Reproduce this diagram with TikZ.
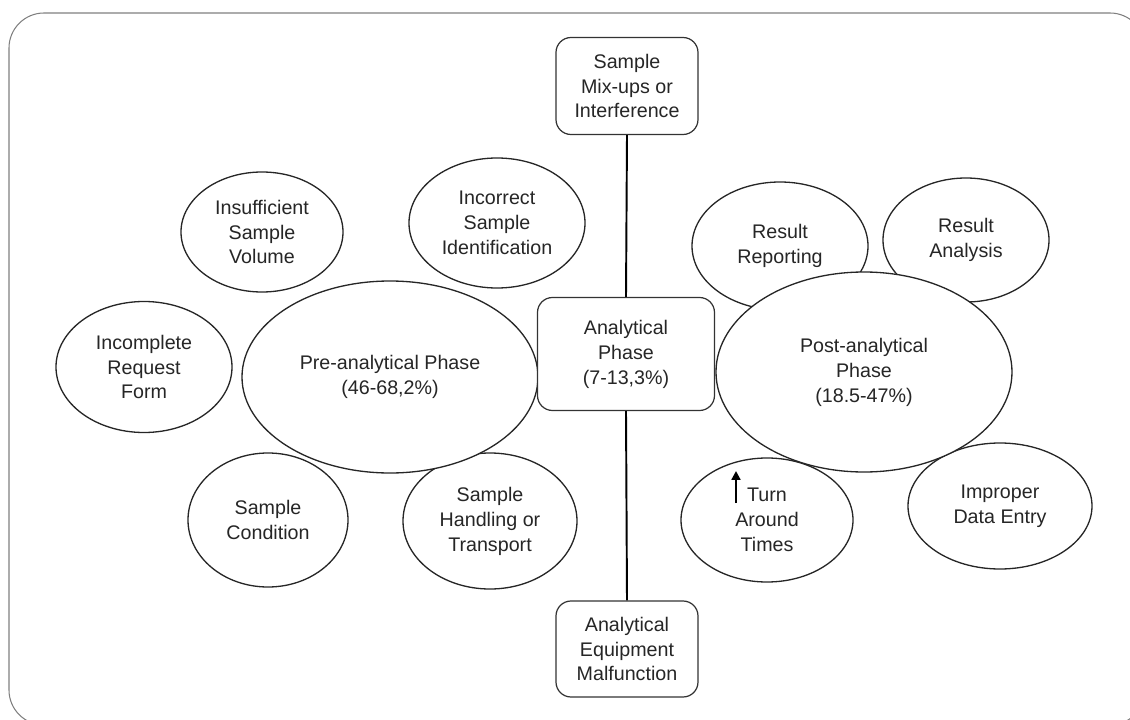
\documentclass[tikz,border=0pt]{standalone}
\usepackage{fontspec}
\setmainfont{Liberation Sans}
\usetikzlibrary{shapes.geometric, arrows.meta}

\tikzset{
  bubble/.style={ellipse, draw=black!85, line width=0.75pt, fill=white,
    inner sep=0pt, align=center, text=black!85},
  phasebox/.style={rectangle, rounded corners=0.3cm, draw=black!80,
    line width=0.7pt, fill=white, inner sep=0pt, align=center, text=black!85},
}

\begin{document}
\begin{tikzpicture}[x=0.02cm, y=-0.02cm, font=\fontsize{11.2}{14.2}\selectfont]
    %% Phases of laboratory errors

    % Params
    \def\u{0.02cm}

    % Frame
    \useasboundingbox (0,0) rectangle (1130,720);
    \draw[black!50, line width=0.6pt, rounded corners=0.7cm] (9,13) rectangle (1145,725);

    % Error sources, pre-analytical side
    \node[bubble, minimum width=176*\u, minimum height=131*\u] (incomplete) at (144,367) {Incomplete\\Request\\Form};
    \node[bubble, minimum width=162*\u, minimum height=120*\u] (volume) at (262,232) {Insufficient\\Sample\\Volume};
    \node[bubble, minimum width=176*\u, minimum height=130*\u] (ident) at (497,223) {Incorrect\\Sample\\Identification};
    \node[bubble, minimum width=160*\u, minimum height=134*\u] (condition) at (268,520) {Sample\\Condition};
    \node[bubble, minimum width=174*\u, minimum height=136*\u] (handling) at (490,521) {Sample\\Handling or\\Transport};

    % Error sources, post-analytical side
    \node[bubble, minimum width=176*\u, minimum height=128*\u] (reporting) at (780,246) {Result\\Reporting};
    \node[bubble, minimum width=166*\u, minimum height=124*\u] (analysis) at (966,240) {Result\\Analysis};
    \node[bubble, minimum width=172*\u, minimum height=124*\u] (turnaround) at (767,520) {Turn\\Around\\Times};
    \node[bubble, minimum width=184*\u, minimum height=126*\u] (entry) at (1000,506) {Improper\\Data Entry};

    % Phases
    \node[bubble, minimum width=296*\u, minimum height=192*\u] (pre) at (390,377) {Pre-analytical Phase\\(46-68,2\%)};
    \node[bubble, minimum width=296*\u, minimum height=200*\u] (post) at (864,372) {Post-analytical\\Phase\\(18.5-47\%)};
    \node[phasebox, minimum width=177*\u, minimum height=113*\u] (analytical) at (626,354) {Analytical\\Phase\\(7-13,3\%)};

    % Analytical error sources
    \node[phasebox, minimum width=142*\u, minimum height=97*\u] (mixups) at (627,86) {Sample\\Mix-ups or\\Interference};
    \node[phasebox, minimum width=142*\u, minimum height=96*\u] (equipment) at (627,649) {Analytical\\Equipment\\Malfunction};

    % Connectors
    \draw[line width=1.1pt] (mixups.south) -- (analytical.north);
    \draw[line width=1.1pt] (analytical.south) -- (equipment.north);

    % Arrow next to Turn
    \coordinate (tatfoot) at (736,503);
    \draw[line width=1.2pt, -{Triangle[width=5pt,length=5pt]}] (tatfoot) -- ++(0,-32);

\end{tikzpicture}
\end{document}
